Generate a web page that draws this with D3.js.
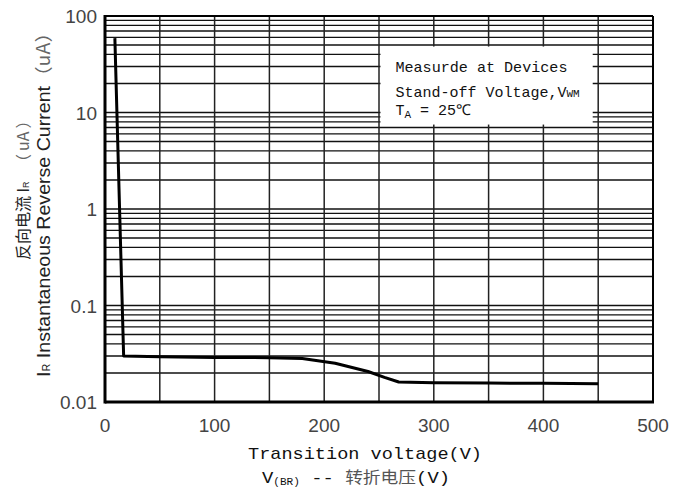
<!DOCTYPE html>
<html>
<head>
<meta charset="utf-8">
<script src="https://cdn.jsdelivr.net/npm/d3@7"></script>
<style>
  body { margin: 0; background: #fff; }
  svg { display: block; }
</style>
</head>
<body>
<svg id="chart" width="678" height="493"></svg>
<script>
// curve
const voltage = [9, 17, 50, 100, 150, 180, 210, 240, 255, 268, 300, 350, 400, 450];
const current = [59, 0.030, 0.0295, 0.029, 0.0288, 0.0282, 0.0252, 0.0207, 0.018, 0.0161, 0.0158, 0.0157, 0.0156, 0.0155];

const xTicks = [0, 100, 200, 300, 400, 500];
const yTicks = [0.01, 0.1, 1, 10, 100];
const yTickLabels = ["0.01", "0.1", "1", "10", "100"];

const W = 678, H = 493;
const margin = { left: 105, top: 16, right: 25, bottom: 91 };
const pw = W - margin.left - margin.right;
const ph = H - margin.top - margin.bottom;

const svg = d3.select("#chart");
const g = svg.append("g").attr("transform", `translate(${margin.left},${margin.top})`);

const x = d3.scaleLinear().domain([0, 500]).range([0, pw]);
const y = d3.scaleLog().domain([0.01, 100]).range([ph, 0]);

// horizontal grid: 1..9 in every decade
const hLines = [];
for (let e = -2; e < 2; e++) {
  for (let m = 1; m <= 9; m++) hLines.push(m * Math.pow(10, e));
}
hLines.push(100);

g.selectAll("line.h")
  .data(hLines)
  .enter()
  .append("line")
  .attr("x1", 0).attr("x2", pw)
  .attr("y1", d => y(d)).attr("y2", d => y(d))
  .attr("stroke", "#111")
  .attr("stroke-width", 1.4);

g.selectAll("line.v")
  .data(d3.range(50, 500, 50))
  .enter()
  .append("line")
  .attr("x1", d => x(d)).attr("x2", d => x(d))
  .attr("y1", 0).attr("y2", ph)
  .attr("stroke", "#222")
  .attr("stroke-width", 1.5);

// note box covers the grid
const boxX = x(250) + 1.5, boxY = y(50) + 1.5;
g.append("rect")
  .attr("x", boxX).attr("y", boxY)
  .attr("width", x(445) - boxX).attr("height", y(7.5) - boxY)
  .attr("fill", "#fff");

const note = g.append("g")
  .attr("font-family", "'Liberation Mono', 'DejaVu Sans Mono', monospace")
  .attr("font-size", "15px")
  .attr("fill", "#111");
note.append("text")
  .attr("x", x(265)).attr("y", 56)
  .attr("textLength", 172).attr("lengthAdjust", "spacingAndGlyphs")
  .text("Measurde at Devices");
const l2 = note.append("text")
  .attr("x", x(265)).attr("y", 81);
l2.append("tspan").text("Stand-off Voltage,V");
l2.append("tspan").attr("font-size", "11px").text("WM");
const l3 = note.append("text")
  .attr("x", x(265)).attr("y", 99);
l3.append("tspan").text("T");
l3.append("tspan").attr("font-size", "11px").attr("dy", 3).text("A");
l3.append("tspan").attr("dy", -3).text(" = 25℃");

// border
g.append("line").attr("x1", 0).attr("x2", pw).attr("y1", 0).attr("y2", 0)
  .attr("stroke", "#000").attr("stroke-width", 2);
g.append("line").attr("x1", pw).attr("x2", pw).attr("y1", 0).attr("y2", ph)
  .attr("stroke", "#000").attr("stroke-width", 2);
g.append("line").attr("x1", 0).attr("x2", 0).attr("y1", -1).attr("y2", ph + 1.5)
  .attr("stroke", "#000").attr("stroke-width", 3);
g.append("line").attr("x1", 0).attr("x2", pw + 1).attr("y1", ph).attr("y2", ph)
  .attr("stroke", "#000").attr("stroke-width", 3);

// curve
const lineFunction = d3.line()
  .x((d) => x(d.v))
  .y((d) => y(d.i));
g.append("path")
  .attr("d", lineFunction(voltage.map((v, k) => ({ v: v, i: current[k] }))))
  .attr("fill", "none")
  .attr("stroke", "#000")
  .attr("stroke-width", 3)
  .attr("stroke-linejoin", "round");

// tick labels
g.selectAll("text.xt")
  .data(xTicks)
  .enter()
  .append("text")
  .attr("x", d => x(d))
  .attr("y", ph + 30)
  .attr("text-anchor", "middle")
  .attr("font-family", "'Liberation Sans', Arial, sans-serif")
  .attr("font-size", "19px")
  .attr("fill", "#444")
  .text(d => d);

g.selectAll("text.yt")
  .data(yTicks)
  .enter()
  .append("text")
  .attr("x", -8)
  .attr("y", d => y(d) + 7)
  .attr("text-anchor", "end")
  .attr("font-family", "'Liberation Sans', Arial, sans-serif")
  .attr("font-size", "19px")
  .attr("fill", "#444")
  .text((d, i) => yTickLabels[i]);

// x axis titles
svg.append("text")
  .attr("x", 248).attr("y", 459)
  .attr("textLength", 234).attr("lengthAdjust", "spacingAndGlyphs")
  .attr("font-family", "'Liberation Mono', monospace")
  .attr("font-size", "17px")
  .attr("fill", "#111")
  .text("Transition voltage(V)");

const t2 = svg.append("text")
  .attr("x", 262).attr("y", 483)
  .attr("textLength", 188).attr("lengthAdjust", "spacingAndGlyphs")
  .attr("font-family", "'Liberation Mono', monospace")
  .attr("font-size", "17px")
  .attr("fill", "#111");
t2.append("tspan").text("V");
t2.append("tspan").attr("font-size", "10px").attr("dy", 2).text("(BR)");
t2.append("tspan").attr("dy", -2).text(" -- ");
t2.append("tspan").attr("font-family", "'Noto Sans CJK SC', sans-serif").attr("font-size", "16px").attr("fill", "#555").text("转折电压");
t2.append("tspan").text("(V)");

// y axis titles
const yt1 = svg.append("text")
  .attr("transform", "translate(29,260) rotate(-90)")
  .attr("font-size", "16px")
  .attr("fill", "#222");
yt1.append("tspan").attr("font-family", "'Noto Sans CJK SC', sans-serif").text("反向电流 ");
yt1.append("tspan").attr("font-family", "'Liberation Sans', Arial, sans-serif").text("I");
yt1.append("tspan").attr("font-family", "'Liberation Sans', Arial, sans-serif").attr("font-size", "9px").text("R");
const yu = svg.append("text")
  .attr("transform", "translate(29,170) rotate(-90)")
  .attr("font-family", "'Noto Sans CJK SC', sans-serif")
  .attr("font-size", "16px")
  .attr("fill", "#666");
yu.append("tspan").text("（");
yu.append("tspan").attr("dx", 3).text("uA");
yu.append("tspan").attr("dx", 3).text("）");

const yt2 = svg.append("text")
  .attr("transform", "translate(50,200) rotate(-90)")
  .attr("text-anchor", "middle")
  .attr("textLength", 354).attr("lengthAdjust", "spacingAndGlyphs")
  .attr("font-family", "'Liberation Sans', Arial, sans-serif")
  .attr("font-size", "18px")
  .attr("fill", "#222");
yt2.append("tspan").text("I");
yt2.append("tspan").attr("font-size", "10px").text("R");
yt2.append("tspan").text(" Instantaneous Reverse Current");
yt2.append("tspan").attr("font-family", "'Noto Sans CJK SC', sans-serif").attr("fill", "#666").text("（uA）");
</script>
</body>
</html>
